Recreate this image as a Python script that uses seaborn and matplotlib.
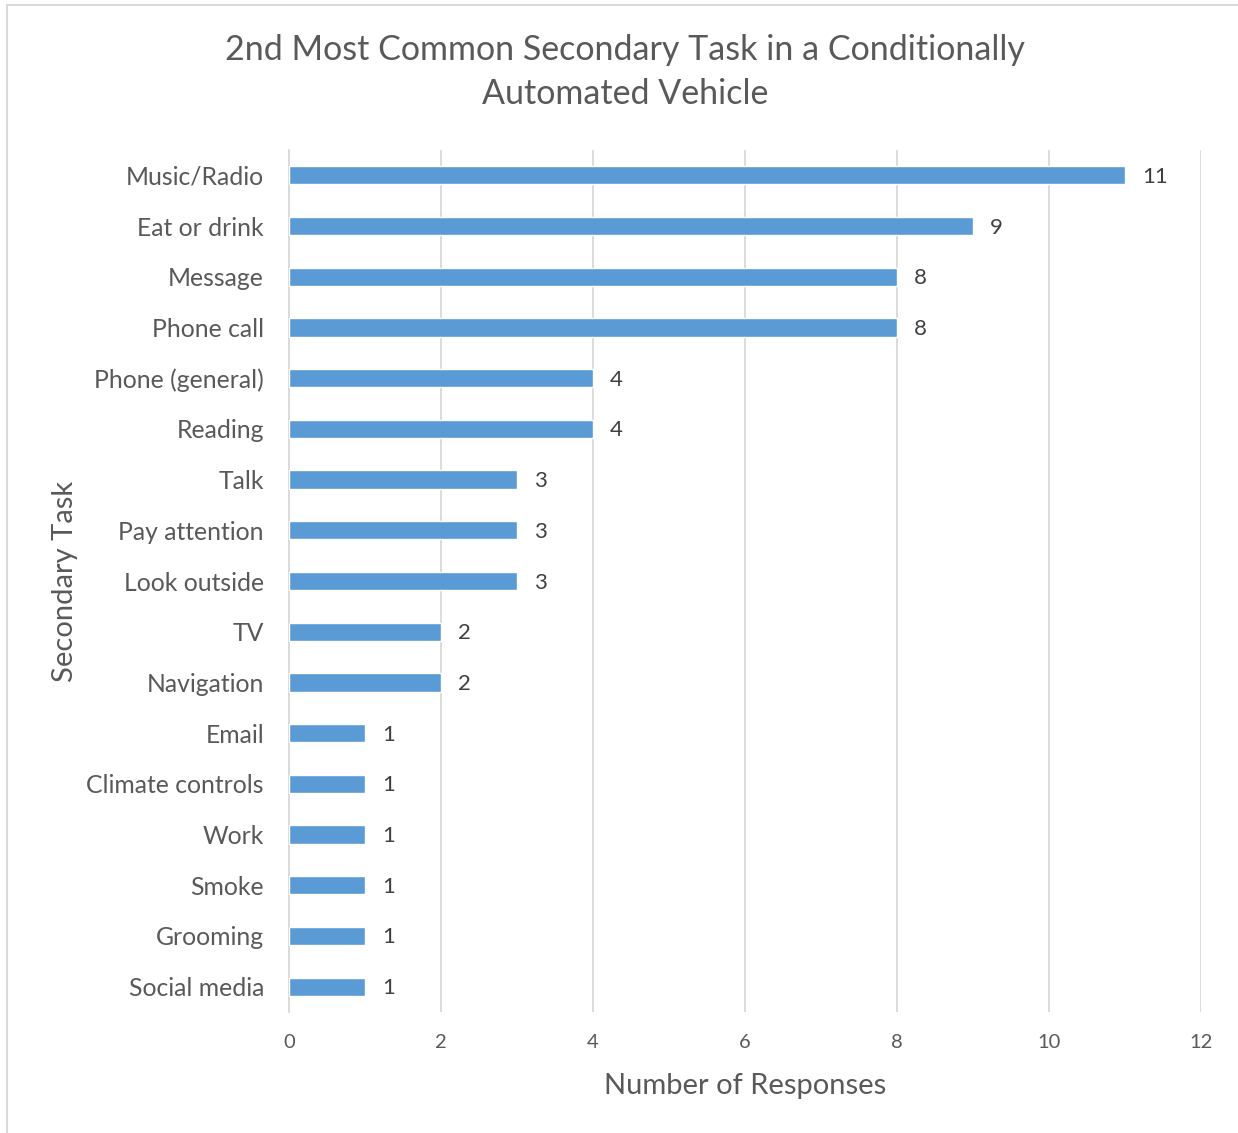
import matplotlib
matplotlib.use("Agg")
import matplotlib.pyplot as plt
import seaborn as sns
import pandas as pd
from matplotlib.patches import Rectangle

tasks = ["Music/Radio", "Eat or drink", "Message", "Phone call", "Phone (general)",
         "Reading", "Talk", "Pay attention", "Look outside", "TV", "Navigation",
         "Email", "Climate controls", "Work", "Smoke", "Grooming", "Social media"]
responses = [11, 9, 8, 8, 4, 4, 3, 3, 3, 2, 2, 1, 1, 1, 1, 1, 1]
x_ticks = [0, 2, 4, 6, 8, 10, 12]

df = pd.DataFrame({"task": tasks, "n": responses})

sns.set_theme(style="white")
plt.rcParams["font.family"] = ["Lato", "DejaVu Sans"]
text_col = "#595959"

fig = plt.figure(figsize=(12.38, 11.33), dpi=100)
ax = fig.add_axes([289 / 1238, 1 - 1012 / 1133, (1201 - 289) / 1238, (1012 - 150) / 1133])

sns.barplot(data=df, x="n", y="task", orient="h", color="#5B9BD5",
            width=0.36, saturation=1, ax=ax, zorder=3)

# data labels next to the bars
for i, v in enumerate(responses):
    ax.text(v + 0.22, i + 0.03, str(v), va="center", ha="left", fontsize=16, color="#404040")

ax.set_xlim(0, 12)
ax.set_ylim(len(tasks) - 0.5, -0.5)
ax.set_xticks(x_ticks)
ax.set_xticklabels([str(t) for t in x_ticks])
ax.grid(axis="x", color="#D9D9D9", linewidth=1.3, zorder=0)
ax.grid(axis="y", visible=False)
for s in ["top", "right", "bottom"]:
    ax.spines[s].set_visible(False)
ax.spines["left"].set_color("#D9D9D9")
ax.spines["left"].set_linewidth(1.3)
ax.tick_params(axis="y", length=0, pad=18, labelsize=17.8, labelcolor=text_col)
for lbl in ax.get_yticklabels():
    lbl.set_va("center_baseline")
ax.tick_params(axis="x", length=0, pad=16, labelsize=14.5, labelcolor=text_col)

ax.set_xlabel("Number of Responses", fontsize=21, color=text_col, labelpad=16)
ax.set_ylabel("Secondary Task", fontsize=21, color=text_col)
ax.yaxis.set_label_coords(-0.231, 0.5, transform=ax.transAxes)

fig.text(625 / 1238, 1 - 72 / 1133, "2nd Most Common Secondary Task in a Conditionally\nAutomated Vehicle",
         ha="center", va="center", fontsize=24.5, color=text_col, linespacing=1.45)

# chart border like the spreadsheet frame
fig.patches.append(Rectangle((7 / 1238, -0.05), 1.1, 1 - 5 / 1133 + 0.05,
                             transform=fig.transFigure, fill=False,
                             edgecolor="#D9D9D9", linewidth=1.5))

plt.savefig("out.png", dpi=100)
plt.close()
